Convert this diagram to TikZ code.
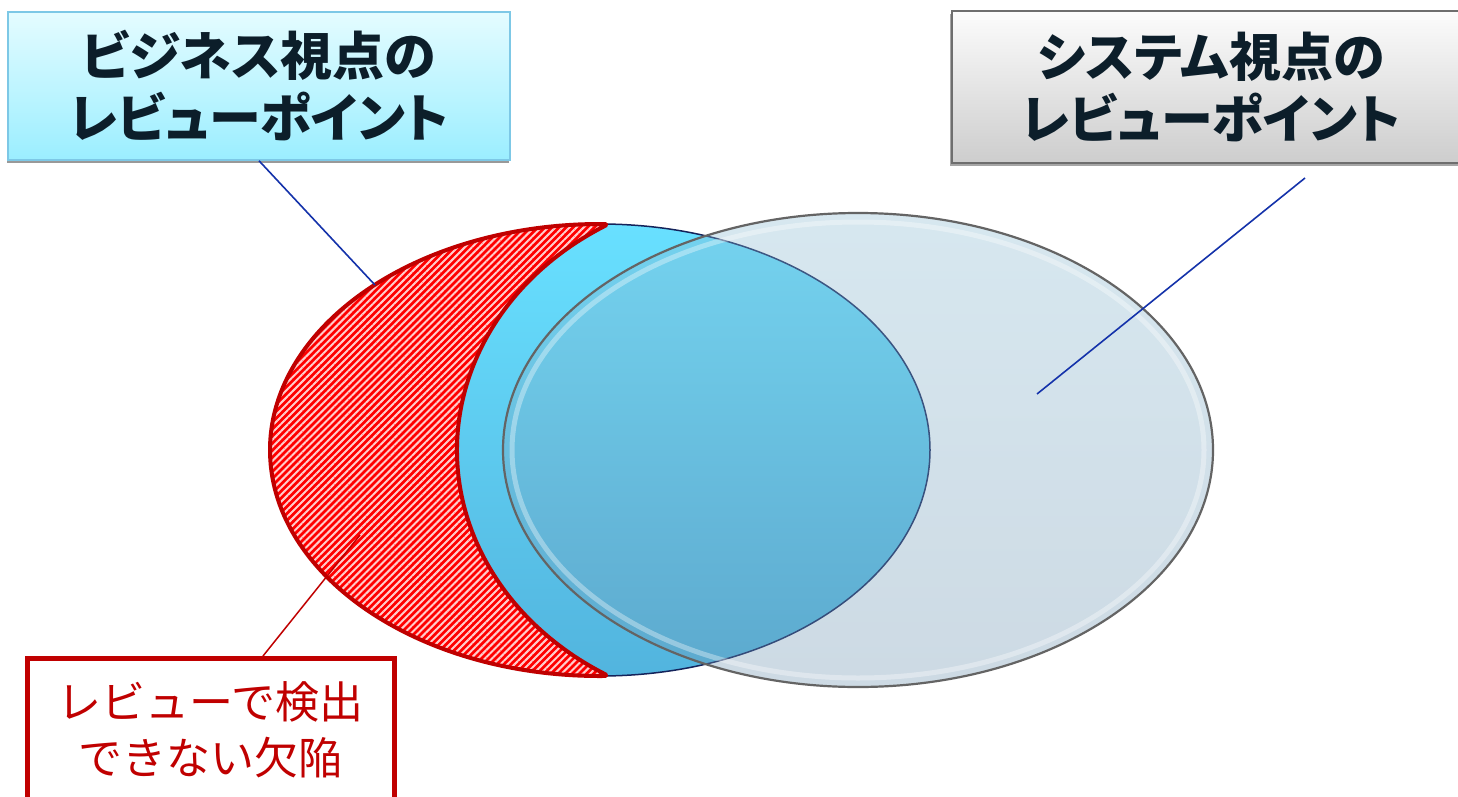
\documentclass[tikz,border=0pt]{standalone}
\usepackage{fontspec}
\newfontfamily\jp[RawFeature=+palt]{Noto Sans CJK JP}
\newfontfamily\jpn{Noto Sans CJK JP}
\usetikzlibrary{patterns.meta,shadows}
\definecolor{titletext}{RGB}{12,30,42}
\definecolor{bizTop}{RGB}{228,252,255}
\definecolor{bizBot}{RGB}{155,238,255}
\definecolor{bizBorder}{RGB}{125,200,230}
\definecolor{sysTop}{RGB}{252,252,252}
\definecolor{sysBot}{RGB}{205,205,205}
\definecolor{sysBorder}{RGB}{110,110,110}
\definecolor{blueTop}{RGB}{104,224,255}
\definecolor{blueBot}{RGB}{82,180,222}
\definecolor{navyEdge}{RGB}{20,35,90}
\definecolor{defectRed}{RGB}{192,0,0}
\definecolor{hatchRed}{RGB}{255,0,0}
\definecolor{hatchLight}{RGB}{255,205,205}
\definecolor{sysEllTop}{RGB}{141,189,212}
\definecolor{sysEllBot}{RGB}{112,149,178}
\definecolor{ellEdge}{RGB}{100,100,100}
\definecolor{leaderBlue}{RGB}{20,50,170}
\def\crescentpath{([shift={(600,450)}]89:330 and 226) arc[start angle=89,end angle=271,x radius=330,y radius=226] -- ([shift={(757,450)}]239.8:300 and 260) arc[start angle=239.8,end angle=120.2,x radius=300,y radius=260] -- cycle}
\begin{document}
\begin{tikzpicture}[x=1pt,y=-1pt,
  titlefont/.style={font=\jp\bfseries\fontsize{52}{62}\selectfont, text=titletext, align=center},
  bizbox/.style={titlefont, draw=bizBorder, line width=1.5pt, top color=bizTop, bottom color=bizBot,
    minimum width=502pt, minimum height=148pt, inner sep=0pt,
    drop shadow={shadow xshift=-1pt, shadow yshift=-3pt, fill=black!40, opacity=1}},
  sysbox/.style={titlefont, draw=sysBorder, line width=2pt, top color=sysTop, bottom color=sysBot,
    minimum width=518pt, minimum height=152pt, inner sep=0pt,
    drop shadow={shadow xshift=-2pt, shadow yshift=-3pt, fill=black!35, opacity=1}},
  defectbox/.style={draw=defectRed, line width=5pt, fill=white, text=defectRed, align=center,
    font=\jpn\fontsize{44}{56}\selectfont, minimum width=367pt, minimum height=144pt, inner sep=0pt},
  leader/.style={leaderBlue, line width=1.6pt},
  redleader/.style={defectRed, line width=1.5pt}]
\useasboundingbox (0,0) rectangle (1458,797);
\clip (0,0) rectangle (1458,797);
\fill[white] (0,0) rectangle (1458,797);

% left (business) ellipse
\path[top color=blueTop, bottom color=blueBot] (600,450) ellipse [x radius=330, y radius=226];
\draw[navyEdge, line width=1.5pt] (600,450) ellipse [x radius=330, y radius=226];

% red hatched crescent
\path[fill=hatchRed] \crescentpath;
\path[pattern={Lines[angle=45,distance=5pt,line width=2pt]}, pattern color=hatchLight] \crescentpath;
\draw[defectRed, line width=4pt, line join=round] \crescentpath;

% right (system) ellipse
\path[top color=sysEllTop, bottom color=sysEllBot, fill opacity=0.35] (858,450) ellipse [x radius=355, y radius=237];
\draw[white, opacity=0.35, line width=5pt] (858,450) ellipse [x radius=346, y radius=228];
\draw[ellEdge, line width=2.2pt] (858,450) ellipse [x radius=355, y radius=237];

% boxes
\node[bizbox] (biz) at (259,86) {ビジネス視点の\\レビューポイント};
\node[sysbox] (sys) at (1211,87) {システム視点の\\レビューポイント};
\node[defectbox] (defect) at (210.5,730) {レビューで検出\\できない欠陥};

% leaders
\coordinate (bizend) at (375,285);
\coordinate (sysstart) at (1305,178);
\coordinate (sysend) at (1037,394);
\coordinate (defstart) at (263,656);
\coordinate (defend) at (360,535);
\draw[leader] (biz.south) -- (bizend);
\draw[leader] (sysstart) -- (sysend);
\draw[redleader] (defstart) -- (defend);
\end{tikzpicture}
\end{document}
